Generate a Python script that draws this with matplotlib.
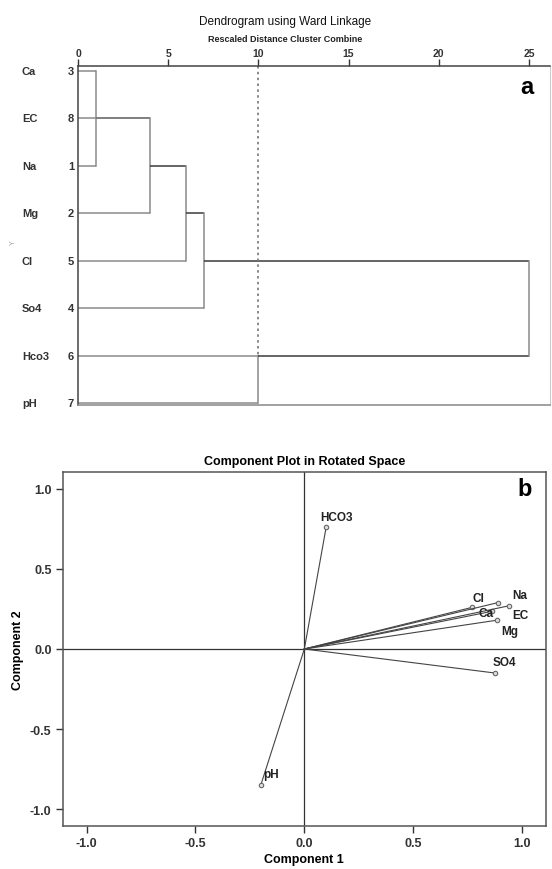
import matplotlib.pyplot as plt
import matplotlib.transforms as mtransforms

plt.rcParams['font.family'] = ['Liberation Sans', 'DejaVu Sans']

# dendrogram data (SPSS style, rows top to bottom)
leaf_names = ['Ca', 'EC', 'Na', 'Mg', 'Cl', 'So4', 'Hco3', 'pH']
leaf_ids = [3, 8, 1, 2, 5, 4, 6, 7]
# merges: (child a, child b, rescaled distance); children >= 8 are earlier merges
merges = [(0, 2, 1), (8, 1, 4), (9, 3, 4), (10, 4, 6), (11, 5, 7), (6, 7, 10), (12, 13, 25)]
cut_level = 10

# rotated component loadings
var_names = ['HCO3', 'Cl', 'Na', 'Ca', 'EC', 'Mg', 'SO4', 'pH']
comp1 = [0.10, 0.77, 0.89, 0.86, 0.94, 0.885, 0.875, -0.20]
comp2 = [0.76, 0.26, 0.29, 0.235, 0.27, 0.18, -0.15, -0.85]
label_pos = [(0.147, 0.825), (0.80, 0.32), (0.988, 0.337), (0.835, 0.223),
             (0.991, 0.215), (0.942, 0.114), (0.92, -0.08), (-0.152, -0.78)]

W, H = 552, 870
fig = plt.figure(figsize=(W / 100, H / 100), dpi=100)

# ---------------- panel a: dendrogram ----------------
ax = fig.add_axes([78 / W, 1 - 406 / H, 472 / W, 339 / H])
ax.set_xlim(0, 472 / 18.04)
ax.set_ylim(7.04, -0.105)

light = '#8a8a8a'
dark = '#3a3a3a'
row = {i: i for i in range(len(leaf_names))}
height = {i: 0 for i in range(len(leaf_names))}
for k, (a, b, d) in enumerate(merges):
    for c in (a, b):
        col = light if c < len(leaf_names) else dark
        ax.plot([height[c], d], [row[c], row[c]], color=col, lw=1.1, solid_capstyle='butt')
    ax.plot([d, d], [row[a], row[b]], color=light, lw=1.1)
    new = len(leaf_names) + k
    row[new] = (row[a] + row[b]) // 2
    height[new] = d
ax.plot([cut_level, cut_level], [-0.105, row[6]], color='#777777', lw=1.2, ls=(0, (1.5, 2)))

ax.xaxis.tick_top()
ax.set_xticks([0, 5, 10, 15, 20, 25])
ax.tick_params(axis='x', direction='out', length=5, width=1, pad=1, labelsize=7.5, colors='#333333')
for t in ax.get_xticklabels():
    t.set_fontweight('bold')
ax.set_yticks([])
for s in ['top', 'left']:
    ax.spines[s].set_color('#444444')
    ax.spines[s].set_linewidth(1.1)
ax.spines['right'].set_color('#cccccc')
ax.spines['bottom'].set_color('#888888')
ax.spines['bottom'].set_linewidth(1.1)

tr = mtransforms.blended_transform_factory(fig.transFigure, ax.transData)
for i, (n, idx) in enumerate(zip(leaf_names, leaf_ids)):
    ax.text(22 / W, i, n, transform=tr, ha='left', va='center', fontsize=8,
            fontweight='bold', color='#333333')
    ax.text(74 / W, i, str(idx), transform=tr, ha='right', va='center', fontsize=8,
            fontweight='bold', color='#333333')

fig.text(0.5165, 1 - 22 / H, 'Dendrogram using Ward Linkage', ha='center', va='center',
         fontsize=8.5, color='#111111')
fig.text(0.5165, 1 - 40 / H, 'Rescaled Distance Cluster Combine', ha='center', va='center',
         fontsize=6.5, fontweight='bold', color='#222222',
         family=['Liberation Sans Narrow', 'Liberation Sans'])
fig.text(13 / W, 1 - 243 / H, 'Y', rotation=90, ha='center', va='center', fontsize=5,
         color='#999999')
fig.text(527 / W, 1 - 87 / H, 'a', ha='center', va='center', fontsize=17, fontweight='bold')

# ---------------- panel b: component plot ----------------
ax2 = fig.add_axes([62.7 / W, 1 - 827 / H, 483.3 / W, 354 / H])
ax2.set_xlim(-1.11, 1.11)
ax2.set_ylim(-1.106, 1.106)
ax2.axhline(0, color='#333333', lw=0.9)
ax2.axvline(0, color='#333333', lw=0.9)
for n, x, y, (lx, ly) in zip(var_names, comp1, comp2, label_pos):
    ax2.plot([0, x], [0, y], color='#444444', lw=0.8)
    ax2.plot(x, y, 'o', ms=3.2, mfc='#dddddd', mec='#666666', mew=0.8)
    ax2.text(lx, ly, n, ha='center', va='center', fontsize=8.5, fontweight='bold',
             color='#222222')

ticks = [-1.0, -0.5, 0.0, 0.5, 1.0]
ax2.set_xticks(ticks)
ax2.set_yticks(ticks)
ax2.set_xticklabels([f'{t:.1f}' for t in ticks])
ax2.set_yticklabels([f'{t:.1f}' for t in ticks])
ax2.tick_params(direction='out', length=5, width=1, labelsize=9, colors='#333333', pad=3)
for t in ax2.get_xticklabels() + ax2.get_yticklabels():
    t.set_fontweight('bold')
for s in ax2.spines.values():
    s.set_color('#555555')
    s.set_linewidth(1.1)
ax2.set_xlabel('Component 1', fontsize=9, fontweight='bold', labelpad=3)
ax2.set_ylabel('Component 2', fontsize=9, fontweight='bold', labelpad=4)
ax2.set_title('Component Plot in Rotated Space', fontsize=9, fontweight='bold', pad=6)
fig.text(525 / W, 1 - 490 / H, 'b', ha='center', va='center', fontsize=17, fontweight='bold')

fig.savefig('out.png', dpi=100)
